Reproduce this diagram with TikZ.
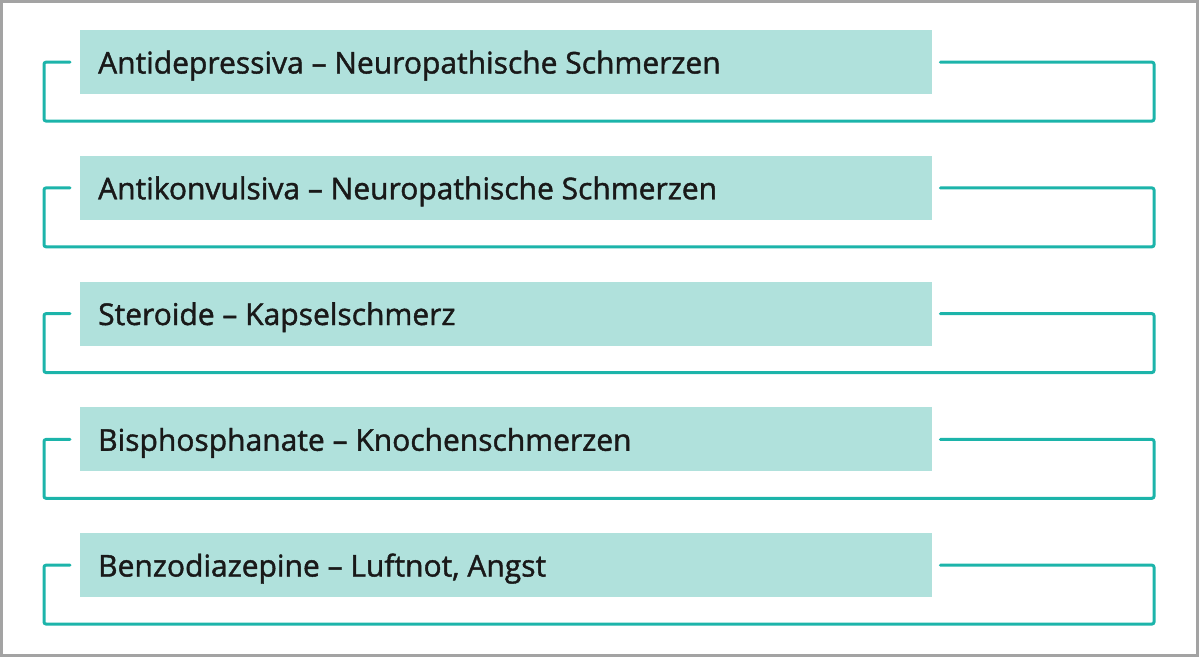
\documentclass[tikz,border=0pt]{standalone}
\usepackage{fontspec}
\setmainfont{Open Sans}[FakeBold=1.4]
\definecolor{boxfill}{HTML}{B0E1DC}
\definecolor{tealline}{HTML}{1CB4AA}
\definecolor{frame}{HTML}{A3A3A3}
\tikzset{
  rowbox/.style={fill=boxfill, draw=none, minimum width=852pt, minimum height=64pt, inner sep=0pt, anchor=north west},
  rowtext/.style={anchor=base west, inner sep=0pt, font=\fontsize{30pt}{34pt}\selectfont, text=black!90},
  bracket/.style={draw=tealline, line width=3pt, rounded corners=2pt, line cap=round}
}
\begin{document}
\begin{tikzpicture}[x=1pt,y=-1pt]
\useasboundingbox (0,0) rectangle (1200,657);
\draw[frame, line width=2.5pt] (1.25,1.25) rectangle (1197.5,655.5);
\foreach \i/\txt in {0/{Antidepressiva – Neuropathische Schmerzen},1/{Antikonvulsiva – Neuropathische Schmerzen},2/{Steroide – Kapselschmerz},3/{Bisphosphanate – Knochenschmerzen},4/{Benzodiazepine – Luftnot, Angst}}{
  \pgfmathsetmacro{\dy}{125.75*\i}
  \node[rowbox] (b\i) at (80,30+\dy) {};
  \node[rowtext] (t\i) at (98,73.5+\dy) {\txt};
  \coordinate (l\i) at ([xshift=-10pt]b\i.west);
  \coordinate (r\i) at ([xshift=8pt]b\i.east);
  \coordinate (bl\i) at (44,121+\dy);
  \coordinate (br\i) at (1154,121+\dy);
  \draw[bracket] (l\i) -| (bl\i) -- (br\i) |- (r\i);
}
\end{tikzpicture}
\end{document}
